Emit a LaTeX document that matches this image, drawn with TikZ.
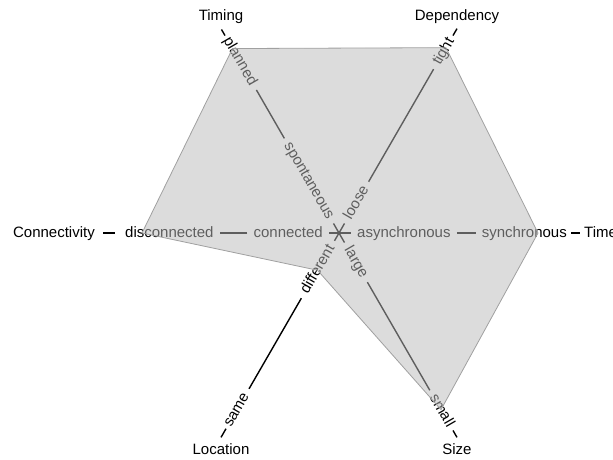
\documentclass[tikz,border=0pt]{standalone}
\usepackage{fontspec}
\setmainfont{Liberation Sans}
\begin{document}
\begin{tikzpicture}[x=1pt,y=1pt,
  lbl/.style={font=\fontsize{15}{18}\selectfont, inner sep=0pt, text height=11pt, text depth=3pt},
  axline/.style={line width=1.4pt, black},
  gapline/.style={axline, shorten <=6pt, shorten >=6pt},
  hubline/.style={axline, shorten >=6pt},
  web/.style={draw={rgb,255:red,160;green,160;blue,160}, line width=0.8pt,
              fill={rgb,255:red,186;green,186;blue,186}, fill opacity=0.51}
]
\useasboundingbox (-339,-226) rectangle (274,233);
\coordinate (c) at (0,0);

% Time axis (0 deg)
\node[lbl, anchor=west] (tin) at (0:18pt) {asynchronous};
\node[lbl, anchor=east] (tout) at (0:228pt) {synchronous};
\coordinate (tdash) at (0:241pt);
\node[lbl, anchor=west] (tname) at (0:245pt) {Time};

% Connectivity axis (180 deg)
\node[lbl, anchor=east] (cin) at (180:16pt) {connected};
\node[lbl, anchor=west] (cout) at (180:214pt) {disconnected};
\coordinate (cdash) at (180:236pt);
\node[lbl, anchor=east] (cname) at (180:244pt) {Connectivity};

% Timing axis (120 deg)
\node[lbl, anchor=east, rotate=-60] (min) at (120:17pt) {spontaneous};
\node[lbl, anchor=west, rotate=-60] (mout) at (120:225pt) {planned};
\coordinate (mdash) at (120:235pt);
\node[lbl] (mname) at (-118,217) {Timing};

% Dependency axis (60 deg)
\node[lbl, anchor=west, rotate=60] (din) at (60:17pt) {loose};
\node[lbl, anchor=east, rotate=60] (dout) at (60:224pt) {tight};
\coordinate (ddash) at (60:236pt);
\node[lbl] (dname) at (118,217) {Dependency};

% Location axis (240 deg)
\node[lbl, anchor=east, rotate=60] (lin) at (240:15pt) {different};
\node[lbl, anchor=west, rotate=60] (lout) at (240:223pt) {same};
\coordinate (ldash) at (240:236pt);
\node[lbl] (lname) at (-118,-217) {Location};

% Size axis (-60 deg)
\node[lbl, anchor=west, rotate=-60] (sin) at (-60:17pt) {large};
\node[lbl, anchor=east, rotate=-60] (sout) at (-60:223pt) {small};
\coordinate (sdash) at (-60:236pt);
\node[lbl] (sname) at (118,-217) {Size};

% hub
\foreach \n in {tin,cin,min,din,lin,sin}{
  \draw[hubline] (c) -- (\n);
}
% axis lines
\foreach \a/\b in {tin/tout,cin/cout,min/mout,din/dout,lin/lout,sin/sout}{
  \draw[gapline] (\a) -- (\b);
}
% dashes
\draw[axline, shorten <=4pt] (tout) -- (tdash);
\draw[axline, shorten <=10pt] (cout) -- (cdash);
\draw[axline, shorten <=3pt] (mout) -- (mdash);
\draw[axline, shorten <=4pt] (dout) -- (ddash);
\draw[axline, shorten <=3pt] (lout) -- (ldash);
\draw[axline, shorten <=5pt] (sout) -- (sdash);

% profile
\path[web] (120:213pt) -- (60:214pt) -- (0:199pt) -- (-60:204pt) -- (240:43pt) -- (180:197pt) -- cycle;
\end{tikzpicture}
\end{document}
